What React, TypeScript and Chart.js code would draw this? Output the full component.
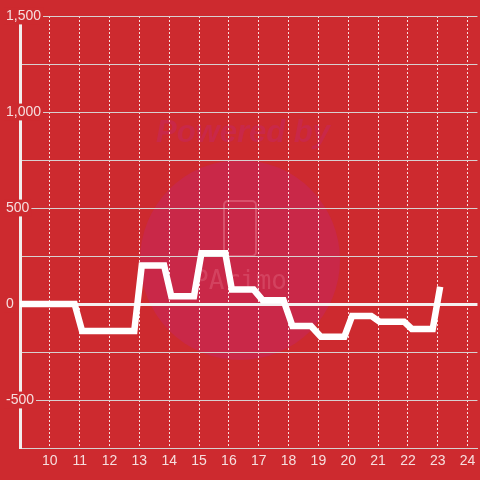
import React, { useEffect, useRef } from "react";
import { Chart, registerables } from "chart.js";

Chart.register(...registerables);

// ---- data ----
const times: number[] = [8.8, 10.83, 11.08, 12.83, 13.08, 13.83, 14.07, 14.83, 15.08, 15.88, 16.1, 16.83, 17.13, 17.83, 18.13, 18.75, 19.08, 19.87, 20.13, 20.77, 21.05, 21.87, 22.13, 22.83, 23.08];
const values: number[] = [0, 0, -140, -140, 200, 200, 40, 40, 264, 264, 75, 75, 20, 20, -115, -115, -170, -170, -62, -62, -92, -92, -130, -130, 90];
const xTicks: number[] = [10, 11, 12, 13, 14, 15, 16, 17, 18, 19, 20, 21, 22, 23, 24];
const yTicks: number[] = [-750, -500, -250, 0, 250, 500, 750, 1000, 1250, 1500];
const yLabelled: number[] = [-500, 0, 500, 1000, 1500];
const watermarkTitle = "Powered by";
const watermarkLogo = "PArimo";

const BG = "#cd2a2f";
const LABEL = "#f6dede";
const FONT = "'Liberation Sans', Arial, sans-serif";

const watermark = {
  id: "watermark",
  beforeDraw(chart: any) {
    const { ctx, width, height } = chart;
    ctx.save();
    ctx.fillStyle = BG;
    ctx.fillRect(0, 0, width, height);
    ctx.fillStyle = "#c92848";
    ctx.beginPath();
    ctx.arc(240, 260, 100, 0, Math.PI * 2);
    ctx.fill();
    ctx.font = `italic bold 31px ${FONT}`;
    ctx.textAlign = "center";
    ctx.textBaseline = "middle";
    ctx.fillStyle = "#c92848";
    ctx.fillText(watermarkTitle, 243, 133);
    ctx.strokeStyle = "rgba(235,130,150,0.45)";
    ctx.lineWidth = 2;
    ctx.beginPath();
    (ctx as any).roundRect(224, 201, 32, 55, 4);
    ctx.stroke();
    ctx.font = `26px 'DejaVu Sans Mono', monospace`;
    ctx.fillStyle = "rgba(235,130,150,0.3)";
    ctx.fillText(watermarkLogo, 240, 282);
    ctx.restore();
  },
};

export default function App() {
  const ref = useRef<HTMLCanvasElement>(null);
  useEffect(() => {
    const chart = new Chart(ref.current!, {
      type: "line",
      data: {
        datasets: [
          {
            data: times.map((t, i) => ({ x: t, y: values[i] })),
            borderColor: "#ffffff",
            borderWidth: 6.5,
            pointRadius: 0,
            tension: 0,
            fill: false,
          },
        ],
      },
      options: {
        animation: false,
        responsive: false,
        devicePixelRatio: 1,
        layout: { padding: { left: 4, top: 16, right: 0, bottom: 6 } },
        plugins: { legend: { display: false }, tooltip: { enabled: false } },
        scales: {
          x: {
            type: "linear",
            min: 9,
            max: 24.33,
            afterBuildTicks: (s: any) => {
              s.ticks = xTicks.map((v) => ({ value: v }));
            },
            grid: { color: "rgba(255,255,255,0.85)", lineWidth: 1, drawTicks: false },
            border: { display: true, color: "#d8d0d0", width: 1, dash: [2, 2] },
            ticks: {
              color: LABEL,
              font: { family: FONT, size: 14 },
              padding: 4.6,
              maxRotation: 0,
              autoSkip: false,
              callback: (v: any) => String(v),
            },
          },
          y: {
            type: "linear",
            min: -750,
            max: 1500,
            afterBuildTicks: (s: any) => {
              s.ticks = yTicks.map((v) => ({ value: v }));
            },
            afterFit: (s: any) => {
              s.width = 16;
            },
            grid: {
              color: (c: any) => (c.tick && c.tick.value === 0 ? "#f4f0f0" : "#d8d0d0"),
              lineWidth: (c: any) => (c.tick && c.tick.value === 0 ? 3 : 1),
              drawTicks: false,
            },
            border: { display: true, color: "#f2eeee", width: 3 },
            ticks: {
              color: LABEL,
              font: { family: FONT, size: 14 },
              mirror: true,
              padding: -14,
              crossAlign: "near",
              autoSkip: false,
              callback: (v: any) => (yLabelled.includes(v) ? Number(v).toLocaleString("en-US") : ""),
              showLabelBackdrop: (c: any) => yLabelled.includes(c.tick.value),
              backdropColor: BG,
              backdropPadding: { left: 2, right: 2, top: 0, bottom: 0 },
            },
          },
        },
      } as any,
      plugins: [watermark],
    });
    return () => chart.destroy();
  }, []);
  return (
    <div style={{ position: "fixed", left: 0, top: 0, width: 480, height: 480, background: BG }}>
      <canvas ref={ref} width={480} height={480} style={{ display: "block", width: 480, height: 480 }} />
    </div>
  );
}
